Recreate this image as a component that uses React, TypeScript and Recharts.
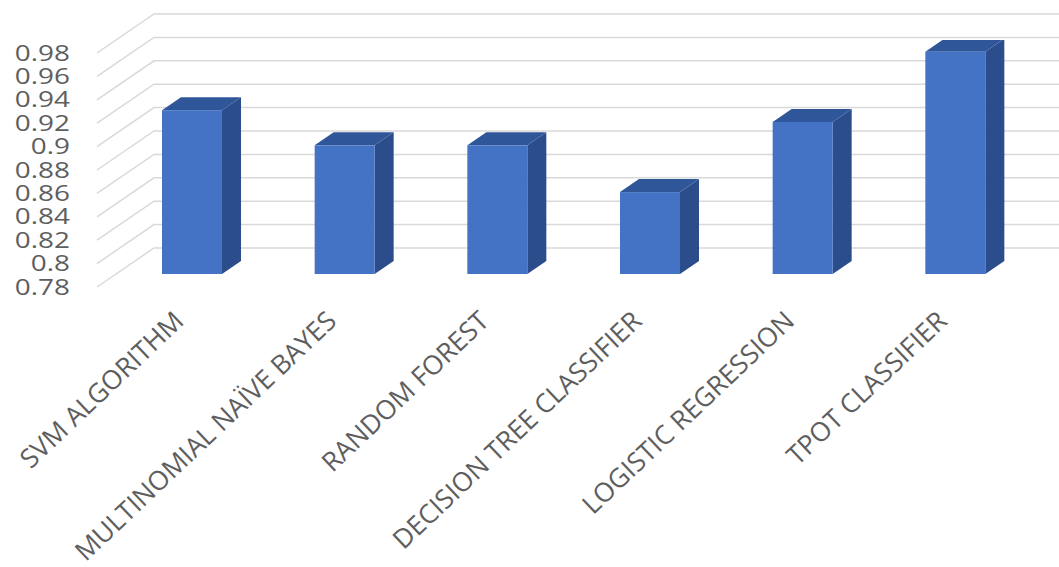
import { Bar, BarChart, CartesianGrid, XAxis, YAxis } from "recharts";

const models = [
  "SVM ALGORITHM",
  "MULTINOMIAL NAÏVE BAYES",
  "RANDOM FOREST",
  "DECISION TREE CLASSIFIER",
  "LOGISTIC REGRESSION",
  "TPOT CLASSIFIER"
];
const accuracy = [0.92, 0.89, 0.89, 0.85, 0.91, 0.97];
const yTicks = [0.78, 0.8, 0.82, 0.84, 0.86, 0.88, 0.9, 0.92, 0.94, 0.96, 0.98];

const data = models.map((name, i) => ({ name, value: accuracy[i] }));

// fake 3d: bars sit a third of the way into the box, back wall at full depth
const DEPTH_X = 19;
const DEPTH_Y = 13;
const TEXT = "#5e5e5e";
const GRID = "#d9d9d9";

function Column(props: any) {
  const { x, y, width, height } = props;
  const r = x + width;
  const b = y + height;
  return (
    <g>
      <polygon
        points={`${r},${y} ${r + DEPTH_X},${y - DEPTH_Y} ${r + DEPTH_X},${b - DEPTH_Y} ${r},${b}`}
        fill="#2c4d8c"
      />
      <polygon
        points={`${x},${y} ${x + DEPTH_X},${y - DEPTH_Y} ${r + DEPTH_X},${y - DEPTH_Y} ${r},${y}`}
        fill="#30569a"
      />
      <rect x={x} y={y} width={width} height={height} fill="#4472c4" />
    </g>
  );
}

function GridLine(props: any) {
  const { x1, y1, index } = props;
  const fx = x1 - DEPTH_X;
  const fy = y1 + DEPTH_Y;
  const bx = x1 + 2 * DEPTH_X;
  const by = y1 - 2 * DEPTH_Y;
  return (
    <path
      key={`g-${index}`}
      d={`M${fx},${fy}L${bx},${by}L1059,${by}`}
      stroke={GRID}
      strokeWidth={1.5}
      fill="none"
    />
  );
}

function YTick(props: any) {
  const { x, y, payload } = props;
  return (
    <g transform={`translate(${x - 46},${y + DEPTH_Y}) scale(1.33,1)`}>
      <text x={0} y={0} dy="0.36em" textAnchor="end" fill={TEXT} fontSize={21} fontFamily="Open Sans">
        {String(payload.value)}
      </text>
    </g>
  );
}

function XTick(props: any) {
  const { x, y, payload } = props;
  const tx = x - 7;
  const ty = y + 49;
  return (
    <text
      x={tx}
      y={ty}
      textAnchor="end"
      transform={`rotate(-43.5, ${tx}, ${ty})`}
      fill={TEXT}
      fontSize={26.5}
      fontFamily="Open Sans"
    >
      {payload.value}
    </text>
  );
}

export default function App() {
  return (
    <div style={{ position: "absolute", left: 0, top: 0, background: "#fff" }}>
      <BarChart
        width={1059}
        height={567}
        data={data}
        margin={{ top: 40, right: 27, left: 0, bottom: 0 }}
        barSize={60}
      >
        <CartesianGrid vertical={false} horizontal={GridLine} />
        <XAxis
          dataKey="name"
          interval={0}
          height={293}
          axisLine={false}
          tickLine={false}
          tickSize={0}
          tickMargin={0}
          tick={<XTick />}
        />
        <YAxis
          type="number"
          domain={[0.78, 0.98]}
          ticks={yTicks}
          width={116}
          axisLine={false}
          tickLine={false}
          tickSize={0}
          tickMargin={0}
          tick={<YTick />}
          allowDataOverflow
        />
        <Bar dataKey="value" shape={<Column />} isAnimationActive={false} />
      </BarChart>
    </div>
  );
}
